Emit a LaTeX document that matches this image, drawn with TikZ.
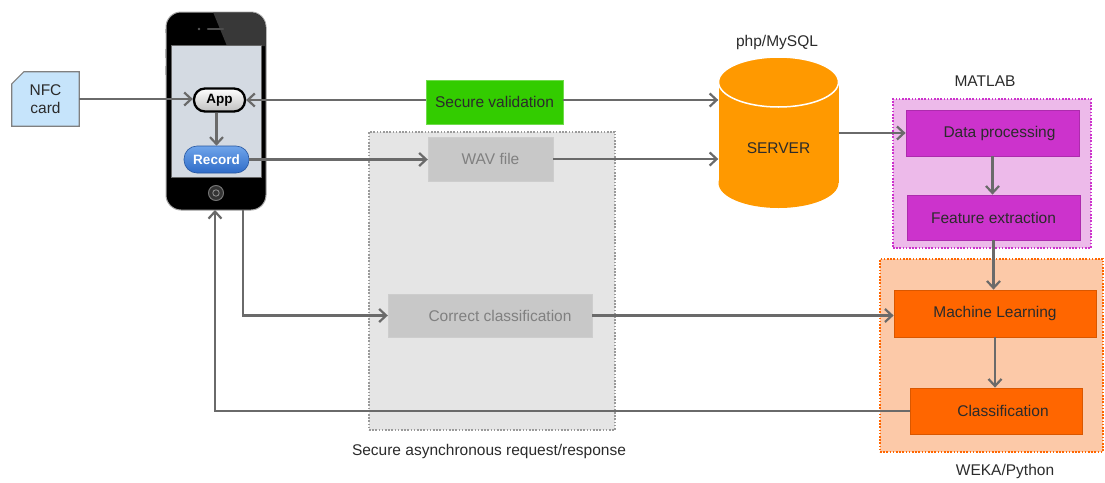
\documentclass[tikz,border=0pt]{standalone}
\usepackage{fontspec}
\setmainfont{Liberation Sans}
\usetikzlibrary{arrows.meta,calc}

\definecolor{linegray}{HTML}{6A6A6A}
\definecolor{txtdark}{HTML}{2B2B2B}
\definecolor{txtgray}{HTML}{808080}
\definecolor{greenbox}{HTML}{33CC00}
\definecolor{grayzone}{HTML}{E5E5E5}
\definecolor{grayzoneline}{HTML}{9A9A9A}
\definecolor{graybox}{HTML}{C8C8C8}
\definecolor{serverorange}{HTML}{FF9900}
\definecolor{pinkzone}{HTML}{EDBAEA}
\definecolor{purplebox}{HTML}{CC33CC}
\definecolor{peachzone}{HTML}{FCC9A8}
\definecolor{orangebox}{HTML}{FF6600}
\definecolor{nfcblue}{HTML}{C6E4FB}
\definecolor{screen}{HTML}{D4DAE2}
\definecolor{recordtop}{HTML}{6FA4EA}
\definecolor{recordbot}{HTML}{2F6CC8}

\tikzset{
  basefont/.style={font=\fontsize{15.5}{18.5}\selectfont},
  arr/.style={draw=linegray, line width=2.2pt,
    -{Straight Barb[length=7pt,width=13pt]}},
  stage/.style={basefont, inner sep=0pt, text=txtdark},
  zone/.style={inner sep=0pt, line width=1.6pt,
    dash pattern=on 1.6pt off 1.6pt},
  caption/.style={basefont, text=txtdark, inner sep=0pt},
}

\begin{document}
\begin{tikzpicture}[x=1pt,y=-1pt]
\useasboundingbox (0,0) rectangle (1105,482);

% ---- grouping zones ----
\node[zone, fill=grayzone, draw=grayzoneline, minimum width=246, minimum height=298]
  (asynczone) at (492,281) {};
\node[zone, fill=pinkzone, draw=purplebox, minimum width=198, minimum height=149]
  (matlabzone) at (992,173.5) {};
\node[zone, fill=peachzone, draw=orangebox, minimum width=223, minimum height=193]
  (wekazone) at (991.5,355.5) {};

\node[caption] (asynclbl) at (489,451) {Secure asynchronous request/response};
\node[caption] (matlablbl) at (985,81) {MATLAB};
\node[caption] (wekalbl) at (1005,471) {WEKA/Python};
\node[caption] (phplbl) at (777,42) {php/MySQL};

% ---- NFC card with a clipped corner ----
\node[inner sep=0pt, minimum width=67, minimum height=54] (nfc) at (45.5,99) {};
\draw[fill=nfcblue, draw=gray, line width=1.2pt]
  ([yshift=-12pt]nfc.north west) -- ([xshift=12pt]nfc.north west)
  -- (nfc.north east) -- (nfc.south east) -- (nfc.south west) -- cycle;
\node[basefont, align=center, inner sep=0pt, text=txtdark] (nfctext) at (nfc.center) {NFC\\card};

% ---- smartphone ----
\node[draw=gray!70, line width=1pt, fill=black, rounded corners=15pt,
  minimum width=100, minimum height=198, inner sep=0pt] (phone) at (216,111) {};
\begin{scope}
  \clip[rounded corners=15pt] (166.5,12.5) rectangle (265.5,209.5);
  \fill[black!78] (213,12) -- (270,12) -- (270,46) -- (227,46) -- cycle;
\end{scope}
\foreach \ya/\yb in {29/33, 49/58, 66/75}
  \draw[gray!60, line width=1.2pt] (165.5,\ya) -- (165.5,\yb);
\fill[screen] (171,45) rectangle (261,177);
\draw[black!60, line width=0.6pt] (171,45) rectangle (261,177);
\fill[black!65] (199,29) circle[radius=1.3];
\draw[black!70, line width=2.4pt, line cap=round] (208,29) -- (223,29);
\node[circle, fill=black!80, draw=black!55, line width=1pt, minimum size=15,
  inner sep=0pt] (homebtn) at (216,193) {};
\draw[black!45, line width=0.9pt] (homebtn.center) circle[radius=3.2];

\node[draw=black, line width=2.3pt, rounded corners=11pt, top color=white,
  bottom color=black!25, minimum width=51, minimum height=23, inner sep=0pt,
  font=\fontsize{13.5}{16}\selectfont\bfseries] (app) at (219.5,100) {App};
\node[draw=recordbot!80!black, line width=0.6pt, rounded corners=13pt,
  top color=recordtop, bottom color=recordbot, minimum width=65, minimum height=27,
  inner sep=0pt, text=white, font=\fontsize{13.5}{16}\selectfont\bfseries]
  (record) at (216.5,159.5) {Record};

% ---- server cylinder ----
\node[inner sep=0pt, minimum width=120, minimum height=151] (server) at (778.5,132.5) {};
\fill[serverorange] (718.5,82) rectangle (838.5,183);
\fill[serverorange] (778.5,183) ellipse[x radius=60, y radius=25];
\fill[serverorange] (778.5,82) ellipse[x radius=60, y radius=25];
\draw[white, line width=1.5pt] (778.5,82) ellipse[x radius=60, y radius=25];
\node[stage] (serverlbl) at (778.5,148) {SERVER};

% ---- processing stages ----
\node[stage, fill=greenbox, draw=greenbox!70!white, line width=0.8pt,
  minimum width=137, minimum height=44] (secval) at (494.5,102) {Secure validation};
\node[stage, fill=graybox, draw=graybox!90!white, text=txtgray,
  minimum width=125, minimum height=44] (wav) at (490.5,159) {WAV file};
\node[stage, fill=graybox, draw=graybox!90!white, text=txtgray,
  minimum width=204, minimum height=43] (correct) at (490,315.5) {\hspace{20pt}Correct classification};
\node[stage, fill=purplebox, draw=purplebox!85!black, line width=0.8pt,
  minimum width=173, minimum height=46] (dp) at (992.5,133) {\hspace{14pt}Data processing};
\node[stage, fill=purplebox, draw=purplebox!85!black, line width=0.8pt,
  minimum width=173, minimum height=45] (fe) at (993.5,217.5) {Feature extraction};
\node[stage, fill=orangebox, draw=orangebox!85!black, line width=0.8pt,
  minimum width=202, minimum height=47] (ml) at (995,313.5) {Machine Learning};
\node[stage, fill=orangebox, draw=orangebox!85!black, line width=0.8pt,
  minimum width=172, minimum height=46] (cls) at (996,411) {\hspace{14pt}Classification};

% ---- connectors ----
\coordinate (phoneout) at (243,210);
\coordinate (phonein) at (215,210);

\draw[arr] (nfc.east) -- (nfc.east -| app.west);
\draw[arr] (secval.west |- app.east) -- (app.east);
\draw[arr] (app.south -| record.north) -- (record.north);
\draw[arr] (record.east) -- (record.east -| wav.west);
\draw[arr] (secval.east |- app.east) -- (app.east -| server.west);
\draw[arr] (wav.east) -- (wav.east -| server.west);
\draw[arr] (server.east |- dp.west) -- (dp.west);
\draw[arr] (dp.south) -- (dp.south |- fe.north);
\draw[arr] (fe.south) -- (fe.south |- ml.north);
\draw[arr] (ml.south) -- (ml.south |- cls.north);
\draw[arr] (phoneout) |- (correct.west);
\draw[arr] (correct.east) -- (correct.east -| ml.west);
\draw[arr] (cls.west) -| (phonein);

\end{tikzpicture}
\end{document}
